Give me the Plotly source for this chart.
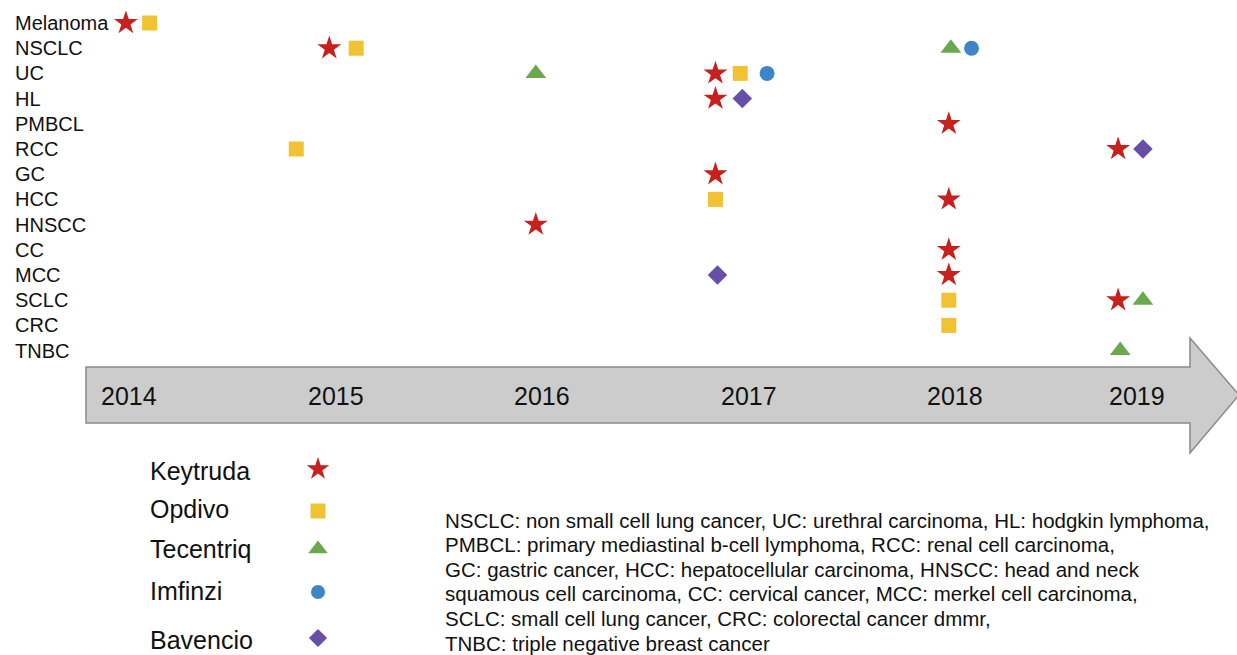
import plotly.graph_objects as go

# ---------------- data ----------------
indications = ["Melanoma", "NSCLC", "UC", "HL", "PMBCL", "RCC", "GC", "HCC",
               "HNSCC", "CC", "MCC", "SCLC", "CRC", "TNBC"]
years = ["2014", "2015", "2016", "2017", "2018", "2019"]

keytruda_ind = ["Melanoma", "NSCLC", "HNSCC", "UC", "HL", "GC", "PMBCL", "HCC",
                "CC", "MCC", "RCC", "SCLC"]
keytruda_date = [2013.985, 2014.97, 2015.97, 2016.84, 2016.84, 2016.84, 2017.97,
                 2017.97, 2017.97, 2017.97, 2018.79, 2018.79]

opdivo_ind = ["Melanoma", "NSCLC", "RCC", "UC", "HCC", "SCLC", "CRC"]
opdivo_date = [2014.10, 2015.10, 2014.81, 2016.96, 2016.84, 2017.97, 2017.97]

tecentriq_ind = ["UC", "NSCLC", "SCLC", "TNBC"]
tecentriq_date = [2015.97, 2017.98, 2018.91, 2018.80]

imfinzi_ind = ["UC", "NSCLC"]
imfinzi_date = [2017.09, 2018.08]

bavencio_ind = ["HL", "MCC", "RCC"]
bavencio_date = [2016.97, 2016.85, 2018.91]

drugs = ["Keytruda", "Opdivo", "Tecentriq", "Imfinzi", "Bavencio"]

footnote_lines = [
    "NSCLC: non small cell lung cancer, UC: urethral carcinoma, HL: hodgkin lymphoma,",
    "PMBCL: primary mediastinal b-cell lymphoma, RCC: renal cell carcinoma,",
    "GC: gastric cancer, HCC: hepatocellular carcinoma, HNSCC: head and neck",
    "squamous cell carcinoma, CC: cervical cancer, MCC: merkel cell carcinoma,",
    "SCLC: small cell lung cancer, CRC: colorectal cancer dmmr,",
    "TNBC: triple negative breast cancer",
]

# ---------------- styles ----------------
styles = {
    "Keytruda": dict(symbol="star", color="#c8201c", size=18),
    "Opdivo": dict(symbol="square", color="#f1c232", size=15),
    "Tecentriq": dict(symbol="triangle-up", color="#6aa84f", size=18),
    "Imfinzi": dict(symbol="circle", color="#3d85c6", size=15),
    "Bavencio": dict(symbol="diamond", color="#674ea7", size=15),
}
series = {
    "Keytruda": (keytruda_ind, keytruda_date),
    "Opdivo": (opdivo_ind, opdivo_date),
    "Tecentriq": (tecentriq_ind, tecentriq_date),
    "Imfinzi": (imfinzi_ind, imfinzi_date),
    "Bavencio": (bavencio_ind, bavencio_date),
}
row_of = {name: i for i, name in enumerate(indications)}

FONT = "Liberation Sans, Arial, sans-serif"
W, H = 1237, 655
ROW0, ROWSTEP = 23, 25.2          # pixel position of first row and spacing
YR_PX, YR_STEP = 129, 206.5       # pixel position of 2014 and px per year


def px2x(px):
    return 2014 + (px - YR_PX) / YR_STEP


def px2y(py):
    return (py - ROW0) / ROWSTEP


fig = go.Figure()

for d in drugs:
    ind, dates = series[d]
    st = styles[d]
    fig.add_trace(go.Scatter(
        x=dates, y=[row_of[i] for i in ind], mode="markers",
        marker=dict(symbol=st["symbol"], color=st["color"], size=st["size"],
                    opacity=1, line=dict(width=0)),
        name=d, showlegend=False, hoverinfo="skip"))

# legend symbols
leg_text_y = [471, 509, 549, 591, 640]
leg_sym_y = [469, 511, 549, 592, 638]
fig.add_trace(go.Scatter(
    x=[px2x(318)] * len(drugs), y=[px2y(v) for v in leg_sym_y], mode="markers",
    marker=dict(symbol=[styles[d]["symbol"] for d in drugs],
                color=[styles[d]["color"] for d in drugs],
                size=[17, 15, 17, 14, 14], opacity=1, line=dict(width=0)),
    showlegend=False, hoverinfo="skip"))

annotations = []
for i, name in enumerate(indications):
    annotations.append(dict(
        x=px2x(13), y=i, text=name, showarrow=False,
        xanchor="left", yanchor="middle", font=dict(family=FONT, size=20, color="#111111")))

year_pos = [2014, 2015, 2016, 2017, 2018, 2018.88]
for yv, lbl in zip(year_pos, years):
    annotations.append(dict(
        x=yv, y=px2y(396), text=lbl, showarrow=False,
        xanchor="center", yanchor="middle", font=dict(family=FONT, size=25, color="#111111")))

for d, ty in zip(drugs, leg_text_y):
    annotations.append(dict(
        x=px2x(148), y=px2y(ty), text=d, showarrow=False,
        xanchor="left", yanchor="middle", font=dict(family=FONT, size=25, color="#111111")))

for k, line in enumerate(footnote_lines):
    annotations.append(dict(
        x=px2x(443), y=px2y(520 + 24.6 * k), text=line,
        showarrow=False, xanchor="left", yanchor="middle", align="left",
        font=dict(family=FONT, size=20.5, color="#111111")))

arrow_px = [(86, 367), (1190, 367), (1190, 338), (1239, 395), (1190, 453), (1190, 423), (86, 423)]
arrow_path = "M " + " L ".join(f"{px2x(a)},{px2y(b)}" for a, b in arrow_px) + " Z"
shapes = [dict(type="path", path=arrow_path, xref="x", yref="y",
               fillcolor="#cccccc", line=dict(color="#8a8a8a", width=1.5), layer="below")]

fig.update_layout(
    width=W, height=H, margin=dict(l=0, r=0, t=0, b=0),
    paper_bgcolor="white", plot_bgcolor="white",
    xaxis=dict(range=[px2x(0), px2x(W)], visible=False),
    yaxis=dict(range=[px2y(H), px2y(0)], visible=False),
    annotations=annotations, shapes=shapes, showlegend=False,
)

fig.write_html("out.html", config={"displayModeBar": False},
               post_script="document.body.style.margin='0';")
